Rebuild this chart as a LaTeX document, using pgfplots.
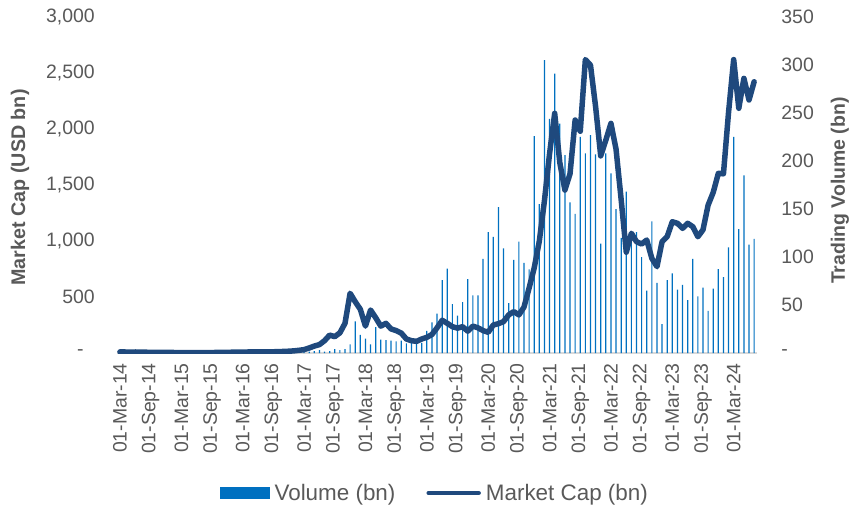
\documentclass[border=0pt]{standalone}
\usepackage{pgfplots}
\pgfplotsset{compat=1.18}
\usepackage{pgfplotstable}
\usepackage{fontspec}
\setmainfont{Liberation Sans}
\definecolor{vol}{RGB}{0,112,192}
\definecolor{mkt}{RGB}{31,73,125}
\definecolor{txt}{RGB}{89,89,89}
\definecolor{axl}{RGB}{217,217,217}

\pgfplotstableread{
m v
36 1
37 1.5
38 2
39 3
40 1.5
41 2
42 4
43 3
44 4
45 9
46 33
47 19
48 15
49 9
50 27
51 14
52 13.5
53 13
54 12
55 13
56 10
57 10.5
58 12
59 10.5
60 23
61 32
62 41
63 76
64 88
65 51
66 39
67 53
68 77
69 60
70 60
71 98
72 126
73 121
74 152
75 109
76 52
77 97
78 116
79 94
80 87
81 226
82 155
83 305
84 244
85 291
86 239
87 206
88 157
89 145
90 225
91 208
92 227
93 207
94 114
95 208
96 187
97 150
98 120
99 168
100 125
101 126
102 100
103 65
104 137
105 73
106 30
107 76
108 83
109 66
110 71
111 55
112 98
113 59
114 68
115 44
116 67
117 87.5
118 79
119 110
120 225
121 129
122 185
123 113
124 119
}\voltable

\pgfplotstableread{
m V
0 10
1 9
2 8
3 9
4 8
5 7
6 6
7 6
8 5
9 5
10 5
11 4
12 4
13 4
14 4
15 4
16 4
17 4
18 4
19 5
20 6
21 6
22 7
23 7
24 8
25 9
26 10
27 11
28 10
29 10
30 11
31 12
32 14
33 16
34 19
35 24
36 30
37 45
38 62
39 75
40 110
41 160
42 146
43 180
44 265
45 533
46 458
47 390
48 240
49 384
50 315
51 240
52 265
53 215
54 200
55 178
56 125
57 110
58 104
59 125
60 140
61 165
62 225
63 292
64 265
65 235
66 222
67 235
68 195
69 240
70 225
71 200
72 185
73 250
74 262
75 280
76 340
77 370
78 340
79 410
80 580
81 760
82 1000
83 1360
84 1780
85 2140
86 1700
87 1455
88 1600
89 2080
90 1980
91 2620
92 2570
93 2200
94 1760
95 1900
96 2050
97 1820
98 1370
99 900
100 1069
101 994
102 973
103 1009
104 845
105 771
106 994
107 1040
108 1172
109 1158
110 1113
111 1158
112 1128
113 1038
114 1100
115 1320
116 1434
117 1604
118 1600
119 2150
120 2620
121 2185
122 2452
123 2259
124 2422
}\mkttable

\begin{document}
\begin{tikzpicture}
\pgfplotsset{
  common/.style={
    scale only axis, width=640.3bp, height=336bp,
    xmin=-0.6, xmax=124.6,
    /pgf/number format/assume math mode=true,
    tick style={draw=none},
    ticklabel style={font=\fontsize{19.5}{20}\selectfont, text=txt},
  }
}
\begin{axis}[common, name=vax,
  ymin=0, ymax=350,
  axis x line*=bottom,
  axis y line*=right,
  x axis line style={-, draw=axl, line width=1.5bp},
  y axis line style={draw=none},
  xtick={0,6,...,120},
  xticklabels={01-Mar-14,01-Sep-14,01-Mar-15,01-Sep-15,01-Mar-16,01-Sep-16,01-Mar-17,01-Sep-17,01-Mar-18,01-Sep-18,01-Mar-19,01-Sep-19,01-Mar-20,01-Sep-20,01-Mar-21,01-Sep-21,01-Mar-22,01-Sep-22,01-Mar-23,01-Sep-23,01-Mar-24},
  xticklabel style={rotate=90, anchor=east, inner ysep=0pt, inner xsep=10bp},
  ytick={0,50,...,350},
  yticklabels={-,50,100,150,200,250,300,350},
  yticklabel style={anchor=west, inner sep=0pt, xshift=24bp},
  ylabel={Trading Volume (bn)},
  ylabel style={font=\bfseries\fontsize{19.5}{22}\selectfont, text=txt, at={(axis description cs:1.1293,0.483)}, anchor=center},
]
\addplot[ybar, bar width=1.2bp, bar shift=0pt, fill=vol, draw=none] table[x=m,y=v]{\voltable};
\end{axis}
\begin{axis}[common,
  ymin=0, ymax=3000,
  axis x line=none,
  axis y line*=left,
  y axis line style={draw=none},
  ytick={0,500,...,3000},
  yticklabels={{-\hspace*{11bp}},500,{1,000},{1,500},{2,000},{2,500},{3,000}},
  yticklabel style={anchor=east, inner sep=0pt, xshift=-22bp},
  ylabel={Market Cap (USD bn)},
  ylabel style={font=\bfseries\fontsize{19.8}{22}\selectfont, text=txt, at={(axis description cs:-0.1513,0.4926)}, anchor=center},
  legend style={at={(axis description cs:0.161,-0.4167)}, anchor=west, draw=none, fill=none,
    font=\fontsize{22.5}{24}\selectfont, text=txt, inner sep=0pt,
    nodes={inner xsep=5bp, inner ysep=0pt},
    /tikz/every even column/.append style={column sep=26bp}},
  legend columns=2,
  legend cell align=left,
]
\addlegendimage{legend image code/.code={\fill[vol] (0bp,-5.5bp) rectangle (49bp,5.5bp);}}
\addlegendentry{Volume (bn)}
\addlegendimage{legend image code/.code={\draw[mkt, line width=4.5bp, line cap=round] (2bp,0bp) -- (52bp,0bp);}}
\addlegendentry{Market Cap (bn)}
\addplot[mkt, line width=5.5bp, line join=round, line cap=round] table[x=m,y=V]{\mkttable};
\end{axis}
\pgfresetboundingbox
\path[use as bounding box] (vax.south west) ++(-116.9bp,-156bp) rectangle ++(855bp,509bp);
\end{tikzpicture}
\end{document}
